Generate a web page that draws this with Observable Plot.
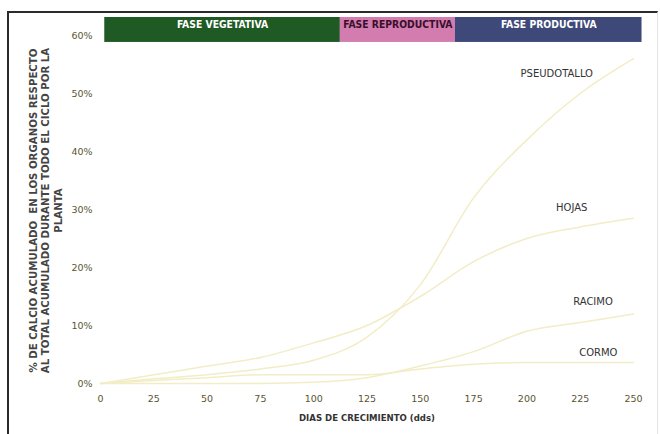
<!DOCTYPE html>
<html>
<head>
<meta charset="utf-8">
<script src="https://cdn.jsdelivr.net/npm/d3@7"></script>
<script src="https://cdn.jsdelivr.net/npm/@observablehq/plot@0.6"></script>
<style>
  html, body { margin: 0; padding: 0; background: #fff; }
  #wrap { position: relative; width: 660px; height: 434px; overflow: hidden; background: #fff; }
  #frame { position: absolute; left: 7px; top: 11px; width: 648px; height: 440px;
           border-left: 2px solid #2a2a2a; border-top: 2px solid #2a2a2a; border-right: 1px solid #e4e4e4; }
  #chart { position: absolute; left: 0; top: 0; }
</style>
</head>
<body>
<div id="wrap"><div id="frame"></div><div id="chart"></div></div>
<script>
// Days of growth (dds)
const days = [0, 25, 50, 75, 100, 125, 150, 175, 200, 225, 250];
// % of calcium accumulated per organ
const pseudotallo = [0, 0.8, 1.5, 2.5, 4, 8, 17, 32, 42, 50, 56];
const hojas       = [0, 1.5, 3, 4.5, 7, 10, 15, 21, 25, 27, 28.5];
const racimo      = [0, 0, 0, 0, 0.2, 1, 3, 5.5, 9, 10.5, 12];
const cormo       = [0, 0.5, 1, 1.5, 1.5, 1.5, 2.5, 3.3, 3.6, 3.6, 3.6];
const seriesNames = ["PSEUDOTALLO", "HOJAS", "RACIMO", "CORMO"];
const seriesValues = [pseudotallo, hojas, racimo, cormo];
// label anchor positions (day, %)
const labelDays = [214, 221, 231, 233.5];
const labelPct  = [53.4, 30.3, 14, 5.3];

// Phases
const phaseNames  = ["FASE VEGETATIVA", "FASE REPRODUCTIVA", "FASE PRODUCTIVA"];
const phaseStart  = [2, 112.5, 166.5];
const phaseEnd    = [112.5, 166.5, 254];
const phaseFill   = ["#1f5a24", "#d27cb0", "#3e4879"];
const phaseText   = ["#ffffff", "#3a0f2a", "#ffffff"];

const xTicks = [0, 25, 50, 75, 100, 125, 150, 175, 200, 225, 250];
const yTicks = [0, 10, 20, 30, 40, 50, 60];

const lineData = [];
seriesNames.forEach((name, i) => days.forEach((d, j) => lineData.push({name, d, v: seriesValues[i][j]})));
const labels = seriesNames.map((name, i) => ({name, d: labelDays[i], v: labelPct[i]}));
const phases = phaseNames.map((name, i) => ({name, x1: phaseStart[i], x2: phaseEnd[i], fill: phaseFill[i], tc: phaseText[i]}));

const yTitle = "% DE CALCIO ACUMULADO  EN LOS ORGANOS RESPECTO\nAL TOTAL ACUMULADO DURANTE TODO EL CICLO POR LA\nPLANTA";

const plot = Plot.plot({
  width: 660,
  height: 434,
  marginLeft: 100,
  marginRight: 27,
  marginTop: 17,
  marginBottom: 51,
  style: {fontFamily: "'DejaVu Sans', Verdana, sans-serif", background: "transparent"},
  x: {domain: [0, 250], ticks: xTicks},
  y: {domain: [0, 63.1], ticks: yTicks},
  marks: [
    Plot.rectY(phases, {x1: "x1", x2: "x2", y1: 58.8, y2: 63.1, fill: "fill"}),
    Plot.text(phases, {x: d => (d.x1 + d.x2) / 2, y: 61.9, text: "name", fill: "tc",
      fontSize: 10.3, fontWeight: "bold", fontFamily: "'DejaVu Sans Condensed', 'DejaVu Sans', sans-serif"}),
    Plot.line(lineData, {x: "d", y: "v", z: "name", stroke: "#f2edc6", strokeWidth: 1.5, curve: "monotone-x"}),
    Plot.text(labels, {x: "d", y: "v", text: "name", fill: "#333", fontSize: 10,
      fontFamily: "'DejaVu Sans', sans-serif"}),
    Plot.axisX({ticks: xTicks, tickSize: 0, tickPadding: 12, fontSize: 9.5, color: "#5a5530",
      label: "DIAS DE CRECIMIENTO (dds)", labelAnchor: "center", labelOffset: 37, labelArrow: "none"}),
    Plot.axisY({ticks: yTicks, tickSize: 0, tickPadding: 8, fontSize: 9.5, color: "#5a5530",
      tickFormat: d => d + "%", label: null}),
    Plot.text([yTitle], {frameAnchor: "left", text: d => d, rotate: -90, dx: -55, dy: 10,
      fontSize: 10.2, lineHeight: 1.2, fill: "#444", fontWeight: "bold", textAnchor: "middle"})
  ]
});
document.getElementById("chart").appendChild(plot);
// style axis label
plot.querySelectorAll("[aria-label='x-axis label'] text").forEach(t => {
  t.setAttribute("fill", "#333"); t.setAttribute("font-size", "9.5"); t.setAttribute("font-weight", "bold");
  t.setAttribute("font-family", "'DejaVu Sans Condensed', 'DejaVu Sans', sans-serif");
});
</script>
</body>
</html>
